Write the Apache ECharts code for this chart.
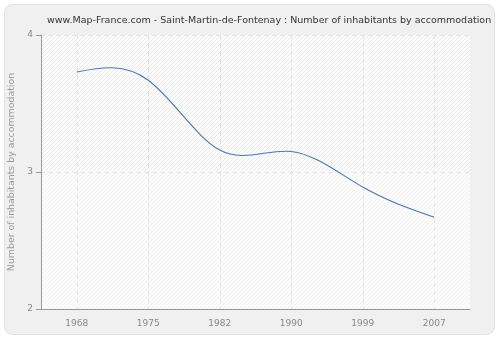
<!DOCTYPE html>
<html><head><meta charset="utf-8">
<script src="https://cdn.jsdelivr.net/npm/echarts@6/dist/echarts.min.js"></script>
<style>html,body{margin:0;padding:0;background:#fff}#c{width:500px;height:340px}</style>
</head><body><div id="c"></div>
<script>
const titleText = 'www.Map-France.com - Saint-Martin-de-Fontenay : Number of inhabitants by accommodation';
const yAxisName = 'Number of inhabitants by accommodation';
const years = ['1968', '1975', '1982', '1990', '1999', '2007'];
const inhabitantsPerHome = [3.73, 3.67, 3.16, 3.15, 2.89, 2.67];
const yTicks = [2, 3, 4];

function hatch(bg, line) {
  const c = document.createElement('canvas');
  c.width = 4; c.height = 4;
  const g = c.getContext('2d');
  g.fillStyle = bg; g.fillRect(0, 0, 4, 4);
  g.strokeStyle = line; g.lineWidth = 1;
  g.beginPath(); g.moveTo(0, 4); g.lineTo(4, 0); g.stroke();
  g.beginPath(); g.moveTo(-1, 1); g.lineTo(1, -1); g.stroke();
  g.beginPath(); g.moveTo(3, 5); g.lineTo(5, 3); g.stroke();
  return { image: c, repeat: 'repeat' };
}

// natural cubic spline through pixel points, returned as bezier segments
function splineSegments(pts) {
  const n = pts.length;
  const h = [], M = new Array(n).fill(0);
  for (let i = 0; i < n - 1; i++) h.push(pts[i + 1][0] - pts[i][0]);
  if (n > 2) {
    const a = [], b = [], c = [], d = [];
    for (let i = 1; i < n - 1; i++) {
      a.push(h[i - 1]); b.push(2 * (h[i - 1] + h[i])); c.push(h[i]);
      d.push(6 * ((pts[i + 1][1] - pts[i][1]) / h[i] - (pts[i][1] - pts[i - 1][1]) / h[i - 1]));
    }
    const m = b.length;
    for (let i = 1; i < m; i++) {
      const w = a[i] / b[i - 1];
      b[i] -= w * c[i - 1]; d[i] -= w * d[i - 1];
    }
    const sol = new Array(m);
    sol[m - 1] = d[m - 1] / b[m - 1];
    for (let i = m - 2; i >= 0; i--) sol[i] = (d[i] - c[i] * sol[i + 1]) / b[i];
    for (let i = 0; i < m; i++) M[i + 1] = sol[i];
  }
  const segs = [];
  for (let i = 0; i < n - 1; i++) {
    const [x0, y0] = pts[i], [x1, y1] = pts[i + 1], hh = h[i];
    const s0 = (y1 - y0) / hh - hh * (2 * M[i] + M[i + 1]) / 6;
    const s1 = (y1 - y0) / hh + hh * (M[i] + 2 * M[i + 1]) / 6;
    segs.push({ x1: x0, y1: y0, x2: x1, y2: y1,
      cpx1: x0 + hh / 3, cpy1: y0 + s0 * hh / 3,
      cpx2: x1 - hh / 3, cpy2: y1 - s1 * hh / 3 });
  }
  return segs;
}

const chart = echarts.init(document.getElementById('c'), null, { renderer: 'canvas' });
chart.setOption({
  animation: false,
  backgroundColor: '#ffffff',
  graphic: [{
    type: 'rect', z: -10, silent: true,
    shape: { x: 4.5, y: 4.5, width: 490, height: 330, r: 8 },
    style: { fill: '#f0f0f0', stroke: '#e2e2e2', lineWidth: 1 }
  }],
  title: {
    text: titleText, left: 42, top: 11,
    textStyle: { fontFamily: 'DejaVu Sans', fontSize: 9.5, fontWeight: 'normal', color: '#333' }
  },
  grid: { left: 41, right: 30, top: 35, bottom: 31, outerBoundsMode: 'none', containLabel: false },
  xAxis: {
    type: 'category', data: years, boundaryGap: true,
    axisLine: { lineStyle: { color: '#999', width: 1 } },
    axisTick: { alignWithLabel: true, length: 5, lineStyle: { color: '#999' } },
    axisLabel: { color: '#888', fontFamily: 'DejaVu Sans', fontSize: 9, margin: 10 },
    splitLine: { show: true, alignWithLabel: true, lineStyle: { color: '#e3e3e3', type: [4, 4] } }
  },
  yAxis: {
    type: 'value', min: yTicks[0], max: yTicks[yTicks.length - 1], interval: 1,
    name: yAxisName, nameLocation: 'middle', nameGap: 23,
    nameTextStyle: { color: '#999', fontFamily: 'DejaVu Sans', fontSize: 9.4 },
    axisLine: { show: true, lineStyle: { color: '#999', width: 1 } },
    axisTick: { show: true, length: 5, lineStyle: { color: '#999' } },
    axisLabel: { color: '#888', fontFamily: 'DejaVu Sans', fontSize: 9, margin: 8 },
    splitLine: { show: true, lineStyle: { color: '#e3e3e3', type: [4, 4] } },
    splitArea: { show: true, areaStyle: { color: [hatch('#fbfbfb', '#f3f3f3'), hatch('#fbfbfb', '#ececec')] } }
  },
  series: [{
    type: 'custom',
    data: inhabitantsPerHome.map((v, i) => [i, v]),
    encode: { x: 0, y: 1 },
    renderItem: function (params, api) {
      if (params.dataIndex !== 0) return null;
      const pts = inhabitantsPerHome.map((v, i) => api.coord([i, v]));
      return {
        type: 'group',
        children: splineSegments(pts).map(s => ({
          type: 'bezierCurve', shape: s,
          style: { stroke: '#4a78aa', lineWidth: 1.1, fill: null }
        }))
      };
    }
  }]
});
</script></body></html>
